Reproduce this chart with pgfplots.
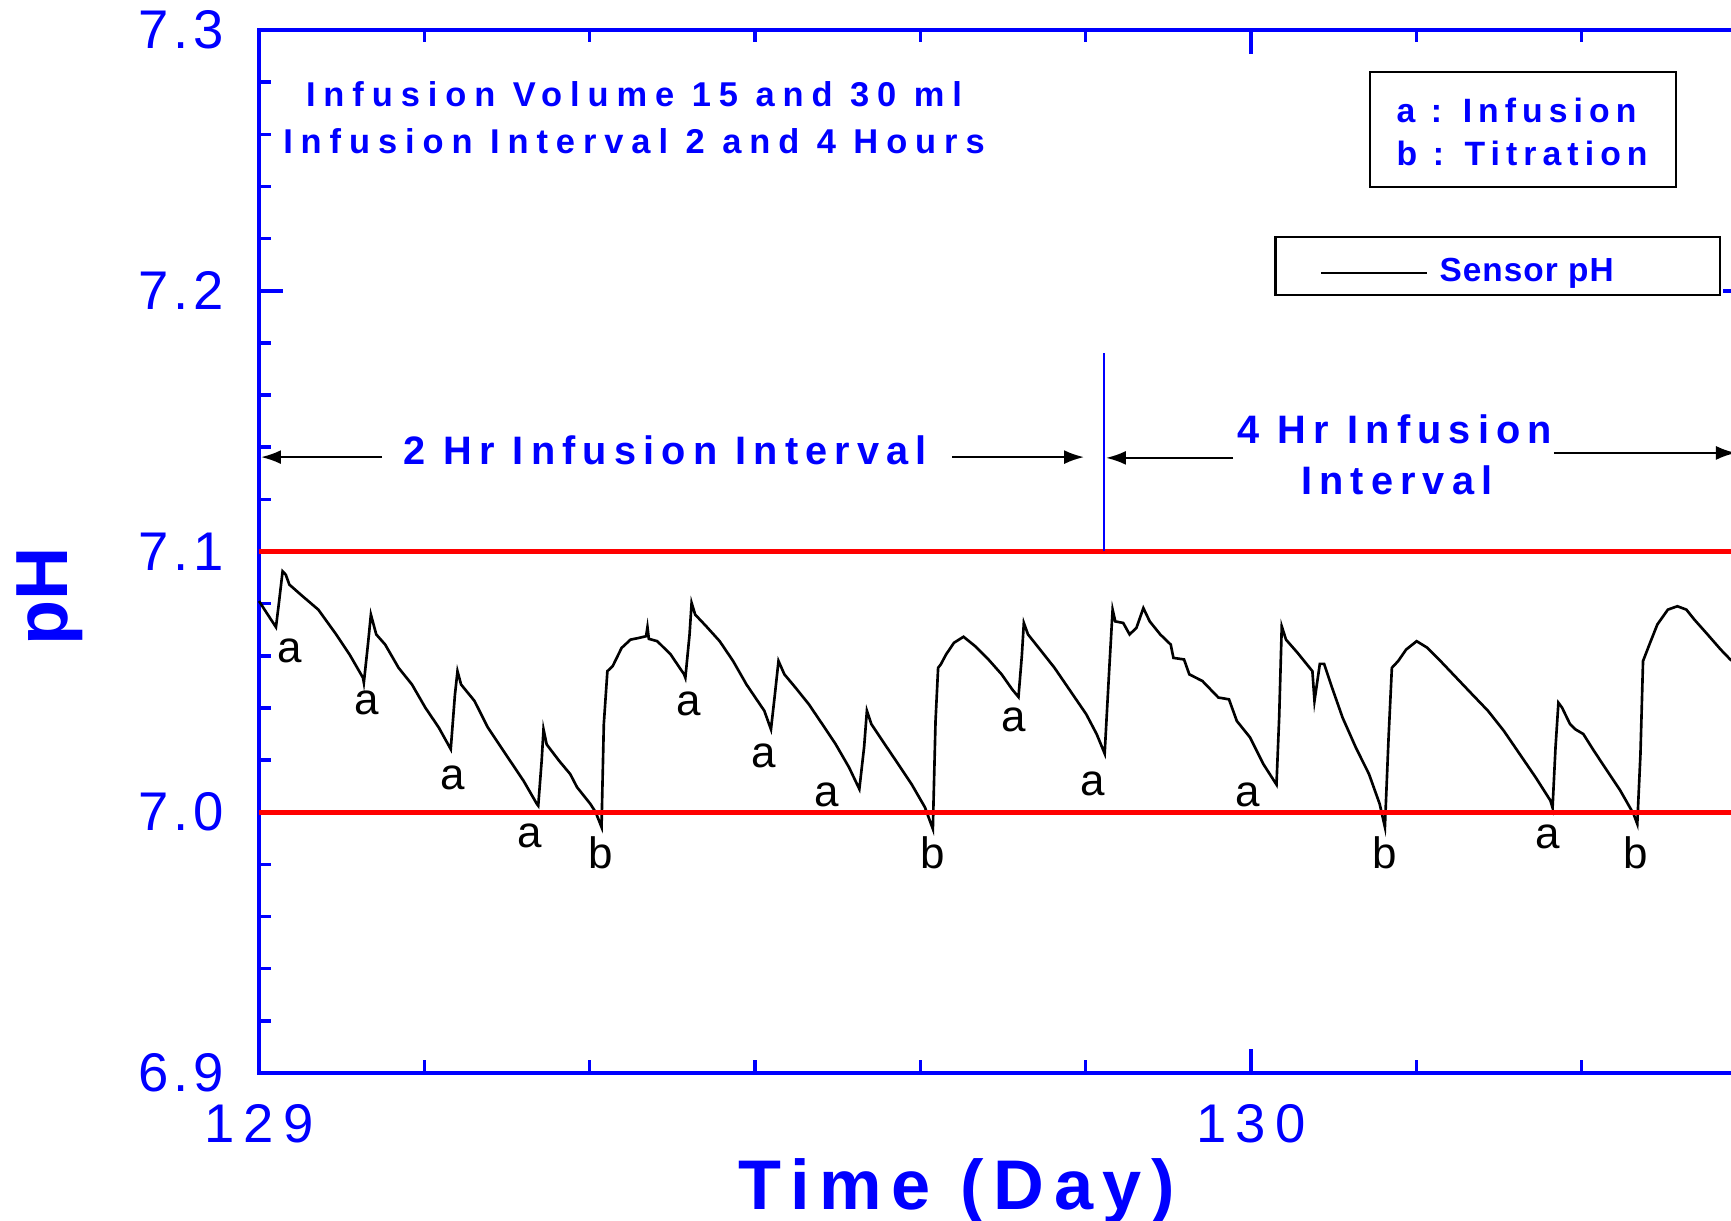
\documentclass[border=0pt]{standalone}
\usepackage{pgfplots}
\pgfplotsset{compat=1.18}
\usepackage{fontspec}
\usetikzlibrary{arrows.meta}
\setmainfont{Liberation Sans}
\newfontfamily\fA{Liberation Sans}[LetterSpace=23]
\newfontfamily\fL{Liberation Sans}[LetterSpace=18]
\newfontfamily\fB{Liberation Sans}[LetterSpace=18]
\newfontfamily\fC{Liberation Sans}[LetterSpace=14]
\newfontfamily\fT{Liberation Sans}[LetterSpace=17]
\newfontfamily\fY{Liberation Sans}[LetterSpace=9]
\newfontfamily\fS{Liberation Sans}[LetterSpace=3]
\newcommand\xtf{\fT\fontsize{15.5pt}{18pt}\selectfont}
\newcommand\ytf{\fY\fontsize{15.5pt}{18pt}\selectfont}
\newcommand\fAf{\fA\bfseries\fontsize{9.8pt}{11pt}\selectfont}
\newcommand\fLf{\fL\bfseries\fontsize{9.6pt}{11pt}\selectfont}
\newcommand\fBf{\fB\bfseries\fontsize{11.3pt}{13pt}\selectfont}
\newcommand\tdf{\fC\bfseries\fontsize{20pt}{24pt}\selectfont}
\newcommand\pHf{\bfseries\fontsize{21pt}{24pt}\selectfont}
\newcommand\snf{\fS\bfseries\fontsize{9.5pt}{11pt}\selectfont}
\newcommand\abf{\fontsize{12.5pt}{14pt}\selectfont}

\pgfplotstableread{
x y
129.0000 7.0810
129.0085 7.0760
129.0171 7.0710
129.0200 7.0800
129.0238 7.0924
129.0270 7.0911
129.0306 7.0873
129.0441 7.0828
129.0598 7.0777
129.0778 7.0682
129.0913 7.0605
129.1048 7.0516
129.1057 7.0497
129.1100 7.0650
129.1128 7.0758
129.1182 7.0682
129.1272 7.0643
129.1407 7.0554
129.1542 7.0490
129.1677 7.0401
129.1812 7.0325
129.1933 7.0242
129.1975 7.0450
129.2001 7.0541
129.2037 7.0490
129.2172 7.0427
129.2307 7.0325
129.2486 7.0223
129.2666 7.0121
129.2801 7.0032
129.2815 7.0025
129.2850 7.0200
129.2868 7.0318
129.2900 7.0260
129.3026 7.0197
129.3138 7.0146
129.3206 7.0096
129.3340 7.0032
129.3394 7.0000
129.3453 6.9943
129.3476 7.0338
129.3512 7.0541
129.3565 7.0560
129.3655 7.0630
129.3745 7.0662
129.3835 7.0669
129.3902 7.0675
129.3916 7.0710
129.3930 7.0665
129.4015 7.0656
129.4150 7.0605
129.4285 7.0529
129.4298 7.0516
129.4340 7.0680
129.4361 7.0803
129.4397 7.0758
129.4509 7.0713
129.4644 7.0656
129.4779 7.0580
129.4914 7.0490
129.5094 7.0389
129.5161 7.0318
129.5200 7.0450
129.5237 7.0580
129.5296 7.0529
129.5408 7.0478
129.5543 7.0414
129.5678 7.0338
129.5813 7.0261
129.5948 7.0172
129.6052 7.0089
129.6100 7.0250
129.6128 7.0389
129.6173 7.0338
129.6308 7.0261
129.6443 7.0185
129.6578 7.0108
129.6713 7.0019
129.6793 6.9936
129.6820 7.0350
129.6846 7.0554
129.6873 7.0567
129.6926 7.0605
129.7006 7.0650
129.7102 7.0673
129.7219 7.0637
129.7353 7.0586
129.7486 7.0529
129.7593 7.0471
129.7656 7.0442
129.7690 7.0600
129.7710 7.0726
129.7752 7.0682
129.7886 7.0618
129.8019 7.0554
129.8179 7.0465
129.8339 7.0376
129.8445 7.0299
129.8525 7.0225
129.8570 7.0541
129.8605 7.0777
129.8632 7.0732
129.8712 7.0726
129.8776 7.0682
129.8845 7.0707
129.8915 7.0783
129.8979 7.0732
129.9085 7.0682
129.9191 7.0643
129.9218 7.0592
129.9325 7.0586
129.9378 7.0529
129.9511 7.0503
129.9671 7.0440
129.9778 7.0433
129.9857 7.0350
129.9990 7.0287
130.0124 7.0185
130.0257 7.0106
130.0284 7.0363
130.0310 7.0713
130.0353 7.0662
130.0470 7.0611
130.0619 7.0541
130.0640 7.0427
130.0694 7.0569
130.0737 7.0569
130.0817 7.0478
130.0923 7.0363
130.1057 7.0248
130.1190 7.0146
130.1297 7.0032
130.1350 6.9943
130.1387 7.0287
130.1420 7.0554
130.1484 7.0580
130.1564 7.0624
130.1670 7.0656
130.1777 7.0631
130.1910 7.0580
130.2070 7.0516
130.2230 7.0452
130.2389 7.0389
130.2549 7.0312
130.2709 7.0223
130.2869 7.0134
130.3018 7.0045
130.3040 7.0017
130.3070 7.0250
130.3099 7.0420
130.3136 7.0401
130.3216 7.0338
130.3270 7.0318
130.3350 7.0300
130.3456 7.0236
130.3590 7.0159
130.3723 7.0083
130.3856 6.9994
130.3894 6.9955
130.3926 7.0223
130.3952 7.0580
130.4016 7.0643
130.4096 7.0720
130.4202 7.0777
130.4298 7.0790
130.4389 7.0777
130.4469 7.0739
130.4602 7.0682
130.4735 7.0624
130.4831 7.0586
130.5000 7.0540
}\phdata

\begin{document}
\begin{tikzpicture}
\begin{axis}[
  scale only axis, width=148.8mm, height=104.3mm,
  xmin=129, xmax=130.5, ymin=6.9, ymax=7.3,
  clip=false,
  axis line style={draw=blue, line width=1.1pt},
  tick style={draw=blue, line width=1.0pt},
  tick align=inside,
  major tick length=2.4mm, minor tick length=1.25mm,
  xtick={129,130}, xticklabels={129,130},
  minor xtick={129.16667,129.33333,129.5,129.66667,129.83333,130.16667,130.33333,130.5},
  ytick={6.9,7.0,7.1,7.2,7.3}, yticklabels={6.9,7.0,7.1,7.2,7.3},
  minor ytick={6.92,6.94,6.96,6.98,7.02,7.04,7.06,7.08,7.12,7.14,7.16,7.18,7.22,7.24,7.26,7.28},
  xticklabel style={font=\xtf, text=blue, anchor=north, inner sep=0pt, yshift=-3.1mm},
  yticklabel style={font=\ytf, text=blue, anchor=east, inner sep=0pt, xshift=-3.4mm},
]
\addplot[black, line width=0.75pt] table[x=x,y=y] {\phdata};
\addplot[red, line width=1.5pt] coordinates {(129,7.1) (130.5,7.1)};
\addplot[red, line width=1.5pt] coordinates {(129,7.0) (130.5,7.0)};
\addplot[blue, line width=0.55pt] coordinates {(129.8518,7.1) (129.8518,7.1761)};

% point labels
\begin{scope}[every node/.style={font=\abf, inner sep=0pt, text=black}]
\node at (axis cs:129.0305,7.0617) {a};
\node at (axis cs:129.1084,7.0418) {a};
\node at (axis cs:129.1952,7.0130) {a};
\node at (axis cs:129.2731,6.9910) {a};
\node at (axis cs:129.3443,6.9843) {b};
\node at (axis cs:129.4333,7.0414) {a};
\node at (axis cs:129.5090,7.0215) {a};
\node at (axis cs:129.5724,7.0067) {a};
\node at (axis cs:129.6793,6.9843) {b};
\node at (axis cs:129.7605,7.0355) {a};
\node at (axis cs:129.8406,7.0109) {a};
\node at (axis cs:129.9964,7.0067) {a};
\node at (axis cs:130.1344,6.9843) {b};
\node at (axis cs:130.2991,6.9906) {a};
\node at (axis cs:130.3882,6.9843) {b};
\end{scope}

% interval arrows
\draw[black, line width=0.65pt, -{Latex[length=2mm,width=1.4mm]}] (axis cs:129.124,7.1362) -- (axis cs:129.002,7.1362);
\draw[black, line width=0.65pt, -{Latex[length=2mm,width=1.4mm]}] (axis cs:129.6986,7.1362) -- (axis cs:129.8317,7.1362);
\draw[black, line width=0.65pt, -{Latex[length=2mm,width=1.4mm]}] (axis cs:129.9819,7.1359) -- (axis cs:129.8538,7.1359);
\draw[black, line width=0.65pt, -{Latex[length=2mm,width=1.4mm]}] (axis cs:130.3054,7.1378) -- (axis cs:130.4889,7.1378);
\node[anchor=base, font=\fBf, text=blue, inner sep=0pt] at (axis cs:129.4093,7.1332) {2 Hr Infusion Interval};
\node[anchor=base, font=\fBf, text=blue, inner sep=0pt] at (axis cs:130.145,7.1416) {4 Hr Infusion};
\node[anchor=base, font=\fBf, text=blue, inner sep=0pt] at (axis cs:130.147,7.1217) {Interval};

% header text
\node[anchor=base, font=\fAf, text=blue, inner sep=0pt] at (axis cs:129.378,7.2705) {Infusion Volume 15 and 30 ml};
\node[anchor=base, font=\fAf, text=blue, inner sep=0pt] at (axis cs:129.378,7.2528) {Infusion Interval 2 and 4 Hours};

% legend box 1
\draw[black, line width=0.65pt] (axis cs:130.12,7.2839) rectangle (axis cs:130.4284,7.2398);
\node[anchor=base west, font=\fLf, text=blue, inner sep=0pt] at (axis cs:130.1462,7.2647) {a : Infusion};
\node[anchor=base west, font=\fLf, text=blue, inner sep=0pt] at (axis cs:130.1462,7.2482) {b : Titration};

% legend box 2
\draw[black, line width=0.65pt, fill=white] (axis cs:130.0247,7.2206) rectangle (axis cs:130.4728,7.1984);
\draw[black, line width=0.65pt] (axis cs:130.0706,7.2068) -- (axis cs:130.1774,7.2068);
\node[anchor=base west, font=\snf, text=blue, inner sep=0pt] at (axis cs:130.1895,7.2037) {Sensor pH};

% axis titles
\node[rotate=90, font=\pHf, text=blue, inner sep=0pt] at (axis cs:128.789,7.0829) {pH};
\node[anchor=base, font=\tdf, text=blue, inner sep=0pt] at (axis cs:129.7036,6.8478) {Time (Day)};

\coordinate (bbA) at (axis cs:128.73891,6.84362);
\coordinate (bbB) at (axis cs:130.48387,7.31151);
\end{axis}
\pgfresetboundingbox
\path[use as bounding box] (bbA) rectangle (bbB);
\end{tikzpicture}
\end{document}
